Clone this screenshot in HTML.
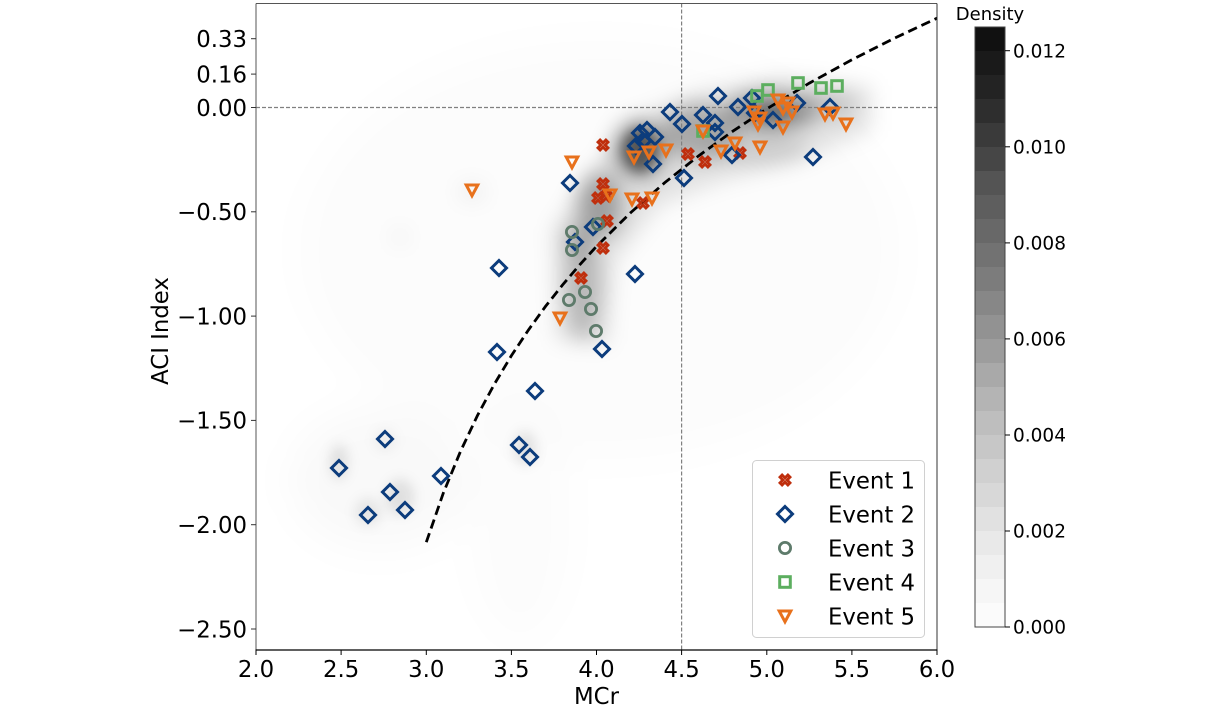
<!DOCTYPE html>
<html>
<head>
<meta charset="utf-8">
<style>
  html, body { margin:0; padding:0; background:#ffffff; }
  svg { display:block; }
  text { font-family: "DejaVu Sans", "Liberation Sans", sans-serif; fill:#000; }
</style>
</head>
<body>
<svg width="1210" height="710" viewBox="0 0 1210 710" xmlns="http://www.w3.org/2000/svg">
  <defs>
    <clipPath id="plotclip"><rect x="256" y="3.5" width="681" height="646.5"/></clipPath>
    <filter id="b20" x="-50%" y="-50%" width="200%" height="200%"><feGaussianBlur stdDeviation="20"/></filter>
    <filter id="b10" x="-50%" y="-50%" width="200%" height="200%"><feGaussianBlur stdDeviation="10"/></filter>
    <filter id="b6" x="-50%" y="-50%" width="200%" height="200%"><feGaussianBlur stdDeviation="6"/></filter>
    <g id="mX"><polygon points="-1.5,-5.6 1.5,-5.6 1.5,-1.5 5.6,-1.5 5.6,1.5 1.5,1.5 1.5,5.6 -1.5,5.6 -1.5,1.5 -5.6,1.5 -5.6,-1.5 -1.5,-1.5" transform="rotate(45)" fill="none" stroke="#bf2f0d" stroke-width="2.8" stroke-linejoin="miter"/></g>
    <g id="mD"><path d="M0,-7.5 L7.5,0 L0,7.5 L-7.5,0 Z" fill="none" stroke="#0c3c7c" stroke-width="3"/></g>
    <g id="mO"><circle r="5.6" fill="none" stroke="#5e7b6b" stroke-width="2.8"/></g>
    <g id="mS"><rect x="-5.3" y="-5.3" width="10.6" height="10.6" fill="none" stroke="#5cae5f" stroke-width="3"/></g>
    <g id="mV"><polygon points="-5.8,-5 5.8,-5 0,5.8" fill="none" stroke="#e8711c" stroke-width="3" stroke-linejoin="miter"/></g>
  </defs>

  <!-- plot background -->
  <rect x="256" y="3.5" width="681" height="646.5" fill="#ffffff"/>

  <!-- density shading -->
  <g clip-path="url(#plotclip)">
    <g filter="url(#b20)">
      <ellipse cx="600" cy="250" rx="300" ry="210" fill="#000" fill-opacity="0.01"/>
      <ellipse cx="380" cy="480" rx="90" ry="70" fill="#000" fill-opacity="0.025"/>
      <ellipse cx="520" cy="520" rx="50" ry="120" fill="#000" fill-opacity="0.012"/>
    </g>
    <g filter="url(#b10)">
      <polygon points="556,340 552,230 592,170 632,118 700,92 780,76 872,86 872,130 800,160 720,182 660,205 615,262 608,345" fill="#000" fill-opacity="0.1"/>
      <ellipse cx="472" cy="192" rx="14" ry="10" fill="#000" fill-opacity="0.05"/>
      <ellipse cx="400" cy="237" rx="8" ry="8" fill="#000" fill-opacity="0.05"/>
      <ellipse cx="700" cy="132" rx="38" ry="28" fill="#000" fill-opacity="0.26"/>
      <ellipse cx="770" cy="112" rx="45" ry="20" fill="#000" fill-opacity="0.34"/>
      <ellipse cx="825" cy="105" rx="32" ry="15" fill="#000" fill-opacity="0.14"/>
      <ellipse cx="760" cy="150" rx="50" ry="14" fill="#000" fill-opacity="0.1"/>
      <ellipse cx="600" cy="205" rx="22" ry="32" fill="#000" fill-opacity="0.3"/>
      <ellipse cx="583" cy="285" rx="17" ry="55" fill="#000" fill-opacity="0.2"/>
      <ellipse cx="578" cy="240" rx="14" ry="18" fill="#000" fill-opacity="0.16"/>
      <ellipse cx="640" cy="150" rx="28" ry="30" fill="#000" fill-opacity="0.3"/>
    </g>
    <g filter="url(#b6)">
      <ellipse cx="640" cy="150" rx="18" ry="22" fill="#000" fill-opacity="0.45"/>
      <ellipse cx="772" cy="112" rx="20" ry="10" fill="#000" fill-opacity="0.25"/>
      <ellipse cx="339" cy="462" rx="9" ry="18" fill="#000" fill-opacity="0.1"/>
      <ellipse cx="368" cy="512" rx="13" ry="14" fill="#000" fill-opacity="0.08"/>
      <ellipse cx="400" cy="497" rx="14" ry="18" fill="#000" fill-opacity="0.1"/>
      <ellipse cx="525" cy="448" rx="11" ry="17" fill="#000" fill-opacity="0.1"/>
      <ellipse cx="385" cy="440" rx="11" ry="11" fill="#000" fill-opacity="0.05"/>
    </g>
  </g>

  <!-- reference lines -->
  <line x1="256" y1="107.5" x2="937" y2="107.5" stroke="#808080" stroke-width="1.2" stroke-dasharray="4,2"/>
  <line x1="681.6" y1="3.5" x2="681.6" y2="650" stroke="#808080" stroke-width="1.2" stroke-dasharray="4,2"/>

  <!-- fitted curve -->
  <polyline fill="none" stroke="#000" stroke-width="2.8" stroke-dasharray="9.5,5"
    points="426.3,542.2 443.3,493.1 460.4,451.6 477.4,415.6 494.5,383.9 511.5,355.5 528.5,329.9 545.5,306.4 562.6,284.9 579.6,264.9 596.6,246.3 630.7,212.6 664.7,182.7 698.8,155.7 732.8,131.2 766.9,108.8 809.4,83.1 852,59.7 894.6,38.1 937,18.2"/>

  <!-- Event 1 -->
  <g>
    <use href="#mX" x="603" y="145"/>
    <use href="#mX" x="603" y="184"/>
    <use href="#mX" x="598" y="198"/>
    <use href="#mX" x="606" y="196"/>
    <use href="#mX" x="607" y="221"/>
    <use href="#mX" x="603" y="248"/>
    <use href="#mX" x="581" y="278"/>
    <use href="#mX" x="643" y="203"/>
    <use href="#mX" x="688" y="154"/>
    <use href="#mX" x="705" y="162"/>
    <use href="#mX" x="740" y="153"/>
  </g>
  <!-- Event 2 -->
  <g>
    <use href="#mD" x="339" y="468"/>
    <use href="#mD" x="368" y="515"/>
    <use href="#mD" x="385" y="439"/>
    <use href="#mD" x="390" y="492"/>
    <use href="#mD" x="405" y="510"/>
    <use href="#mD" x="441" y="476"/>
    <use href="#mD" x="497" y="352"/>
    <use href="#mD" x="499" y="268"/>
    <use href="#mD" x="519" y="445"/>
    <use href="#mD" x="530" y="457"/>
    <use href="#mD" x="535" y="391"/>
    <use href="#mD" x="570" y="183"/>
    <use href="#mD" x="575" y="242"/>
    <use href="#mD" x="593" y="227"/>
    <use href="#mD" x="602" y="349"/>
    <use href="#mD" x="635" y="274"/>
    <use href="#mD" x="640" y="133"/>
    <use href="#mD" x="647" y="130"/>
    <use href="#mD" x="643" y="141"/>
    <use href="#mD" x="636" y="146"/>
    <use href="#mD" x="655" y="137"/>
    <use href="#mD" x="653" y="164"/>
    <use href="#mD" x="670" y="112"/>
    <use href="#mD" x="682" y="124"/>
    <use href="#mD" x="684" y="178"/>
    <use href="#mD" x="703" y="115"/>
    <use href="#mD" x="715" y="123"/>
    <use href="#mD" x="715" y="132"/>
    <use href="#mD" x="718" y="96"/>
    <use href="#mD" x="732" y="155"/>
    <use href="#mD" x="738" y="107"/>
    <use href="#mD" x="752" y="98"/>
    <use href="#mD" x="755" y="113"/>
    <use href="#mD" x="773" y="120"/>
    <use href="#mD" x="797" y="103"/>
    <use href="#mD" x="813" y="157"/>
    <use href="#mD" x="830" y="107"/>
  </g>
  <!-- Event 3 -->
  <g>
    <use href="#mO" x="572" y="232"/>
    <use href="#mO" x="572" y="250"/>
    <use href="#mO" x="598" y="224"/>
    <use href="#mO" x="585" y="292"/>
    <use href="#mO" x="569" y="300"/>
    <use href="#mO" x="591" y="309"/>
    <use href="#mO" x="596" y="331"/>
  </g>
  <!-- Event 4 -->
  <g>
    <use href="#mS" x="703" y="131"/>
    <use href="#mS" x="757" y="96"/>
    <use href="#mS" x="768" y="90"/>
    <use href="#mS" x="798" y="83"/>
    <use href="#mS" x="821" y="88"/>
    <use href="#mS" x="837" y="86"/>
  </g>
  <!-- Event 5 -->
  <g>
    <use href="#mV" x="472" y="190"/>
    <use href="#mV" x="572" y="162"/>
    <use href="#mV" x="560" y="318"/>
    <use href="#mV" x="610" y="195"/>
    <use href="#mV" x="632" y="199"/>
    <use href="#mV" x="652" y="198"/>
    <use href="#mV" x="634" y="157"/>
    <use href="#mV" x="649" y="152"/>
    <use href="#mV" x="666" y="150"/>
    <use href="#mV" x="703" y="131"/>
    <use href="#mV" x="721" y="151"/>
    <use href="#mV" x="735" y="143"/>
    <use href="#mV" x="760" y="147"/>
    <use href="#mV" x="754" y="112"/>
    <use href="#mV" x="760" y="118"/>
    <use href="#mV" x="758" y="124"/>
    <use href="#mV" x="778" y="100"/>
    <use href="#mV" x="783" y="108"/>
    <use href="#mV" x="783" y="127"/>
    <use href="#mV" x="788" y="103"/>
    <use href="#mV" x="792" y="112"/>
    <use href="#mV" x="825" y="114"/>
    <use href="#mV" x="833" y="113"/>
    <use href="#mV" x="846" y="124"/>
  </g>

  <!-- spines -->
  <line x1="256" y1="3.5" x2="937" y2="3.5" stroke="#555" stroke-width="1"/>
  <line x1="256" y1="3.5" x2="256" y2="650" stroke="#555" stroke-width="1"/>
  <line x1="937" y1="3.5" x2="937" y2="650" stroke="#333" stroke-width="1"/>
  <line x1="255.5" y1="650" x2="937.5" y2="650" stroke="#000" stroke-width="1.2"/>

  <!-- y ticks -->
  <g stroke="#333" stroke-width="1">
    <line x1="251" y1="38.7" x2="256" y2="38.7"/>
    <line x1="251" y1="74.1" x2="256" y2="74.1"/>
    <line x1="251" y1="107.5" x2="256" y2="107.5"/>
    <line x1="251" y1="211.8" x2="256" y2="211.8"/>
    <line x1="251" y1="316.1" x2="256" y2="316.1"/>
    <line x1="251" y1="420.4" x2="256" y2="420.4"/>
    <line x1="251" y1="524.7" x2="256" y2="524.7"/>
    <line x1="251" y1="629" x2="256" y2="629"/>
  </g>
  <g font-size="22.8" text-anchor="end">
    <text x="247" y="47">0.33</text>
    <text x="247" y="82.4">0.16</text>
    <text x="247" y="115.8">0.00</text>
    <text x="247" y="220.1">−0.50</text>
    <text x="247" y="324.4">−1.00</text>
    <text x="247" y="428.7">−1.50</text>
    <text x="247" y="533">−2.00</text>
    <text x="247" y="637.3">−2.50</text>
  </g>

  <!-- x ticks -->
  <g stroke="#000" stroke-width="1">
    <line x1="256" y1="650" x2="256" y2="655"/>
    <line x1="341.1" y1="650" x2="341.1" y2="655"/>
    <line x1="426.3" y1="650" x2="426.3" y2="655"/>
    <line x1="511.4" y1="650" x2="511.4" y2="655"/>
    <line x1="596.5" y1="650" x2="596.5" y2="655"/>
    <line x1="681.6" y1="650" x2="681.6" y2="655"/>
    <line x1="766.8" y1="650" x2="766.8" y2="655"/>
    <line x1="851.9" y1="650" x2="851.9" y2="655"/>
    <line x1="937" y1="650" x2="937" y2="655"/>
  </g>
  <g font-size="22.8" text-anchor="middle">
    <text x="256" y="677">2.0</text>
    <text x="341.1" y="677">2.5</text>
    <text x="426.3" y="677">3.0</text>
    <text x="511.4" y="677">3.5</text>
    <text x="596.5" y="677">4.0</text>
    <text x="681.6" y="677">4.5</text>
    <text x="766.8" y="677">5.0</text>
    <text x="851.9" y="677">5.5</text>
    <text x="937" y="677">6.0</text>
  </g>

  <!-- axis labels -->
  <text x="596.5" y="704" font-size="22.8" text-anchor="middle">MCr</text>
  <text transform="translate(168,331) rotate(-90)" font-size="22.8" text-anchor="middle">ACI Index</text>

  <!-- legend -->
  <rect x="752.5" y="460.5" width="172" height="177" rx="4" ry="4" fill="#ffffff" fill-opacity="0.85" stroke="#d0d0d0" stroke-width="1"/>
  <use href="#mX" x="785" y="480"/>
  <use href="#mD" x="785" y="514"/>
  <use href="#mO" x="785" y="548"/>
  <use href="#mS" x="785" y="582"/>
  <use href="#mV" x="785" y="616"/>
  <g font-size="22.8">
    <text x="828" y="488.3">Event 1</text>
    <text x="828" y="522.3">Event 2</text>
    <text x="828" y="556.3">Event 3</text>
    <text x="828" y="590.3">Event 4</text>
    <text x="828" y="624.3">Event 5</text>
  </g>

  <!-- colorbar -->
  <g shape-rendering="crispEdges">
    <rect x="975" y="603" width="30" height="24.2" fill="rgb(251,251,251)"/>
    <rect x="975" y="579" width="30" height="24.2" fill="rgb(246,246,246)"/>
    <rect x="975" y="555" width="30" height="24.2" fill="rgb(240,240,240)"/>
    <rect x="975" y="531" width="30" height="24.2" fill="rgb(233,233,233)"/>
    <rect x="975" y="507" width="30" height="24.2" fill="rgb(225,225,225)"/>
    <rect x="975" y="483" width="30" height="24.2" fill="rgb(216,216,216)"/>
    <rect x="975" y="459" width="30" height="24.2" fill="rgb(208,208,208)"/>
    <rect x="975" y="435" width="30" height="24.2" fill="rgb(199,199,199)"/>
    <rect x="975" y="411" width="30" height="24.2" fill="rgb(190,190,190)"/>
    <rect x="975" y="387" width="30" height="24.2" fill="rgb(180,180,180)"/>
    <rect x="975" y="363" width="30" height="24.2" fill="rgb(169,169,169)"/>
    <rect x="975" y="339" width="30" height="24.2" fill="rgb(157,157,157)"/>
    <rect x="975" y="315" width="30" height="24.2" fill="rgb(146,146,146)"/>
    <rect x="975" y="291" width="30" height="24.2" fill="rgb(135,135,135)"/>
    <rect x="975" y="267" width="30" height="24.2" fill="rgb(124,124,124)"/>
    <rect x="975" y="243" width="30" height="24.2" fill="rgb(114,114,114)"/>
    <rect x="975" y="219" width="30" height="24.2" fill="rgb(104,104,104)"/>
    <rect x="975" y="195" width="30" height="24.2" fill="rgb(94,94,94)"/>
    <rect x="975" y="171" width="30" height="24.2" fill="rgb(84,84,84)"/>
    <rect x="975" y="147" width="30" height="24.2" fill="rgb(70,70,70)"/>
    <rect x="975" y="123" width="30" height="24.2" fill="rgb(58,58,58)"/>
    <rect x="975" y="99" width="30" height="24.2" fill="rgb(46,46,46)"/>
    <rect x="975" y="75" width="30" height="24.2" fill="rgb(35,35,35)"/>
    <rect x="975" y="51" width="30" height="24.2" fill="rgb(26,26,26)"/>
    <rect x="975" y="27" width="30" height="24.2" fill="rgb(17,17,17)"/>
  </g>
  <rect x="975" y="27" width="30" height="600" fill="none" stroke="#444" stroke-width="1"/>
  <g stroke="#000" stroke-width="1">
    <line x1="1005" y1="50.7" x2="1010" y2="50.7"/>
    <line x1="1005" y1="146.8" x2="1010" y2="146.8"/>
    <line x1="1005" y1="242.9" x2="1010" y2="242.9"/>
    <line x1="1005" y1="338.9" x2="1010" y2="338.9"/>
    <line x1="1005" y1="435" x2="1010" y2="435"/>
    <line x1="1005" y1="531" x2="1010" y2="531"/>
    <line x1="1005" y1="627" x2="1010" y2="627"/>
  </g>
  <g font-size="18.5">
    <text x="1013" y="57.4">0.012</text>
    <text x="1013" y="153.5">0.010</text>
    <text x="1013" y="249.6">0.008</text>
    <text x="1013" y="345.6">0.006</text>
    <text x="1013" y="441.7">0.004</text>
    <text x="1013" y="537.7">0.002</text>
    <text x="1013" y="633.7">0.000</text>
  </g>
  <text x="990" y="20" font-size="18" text-anchor="middle">Density</text>
</svg>
</body>
</html>
